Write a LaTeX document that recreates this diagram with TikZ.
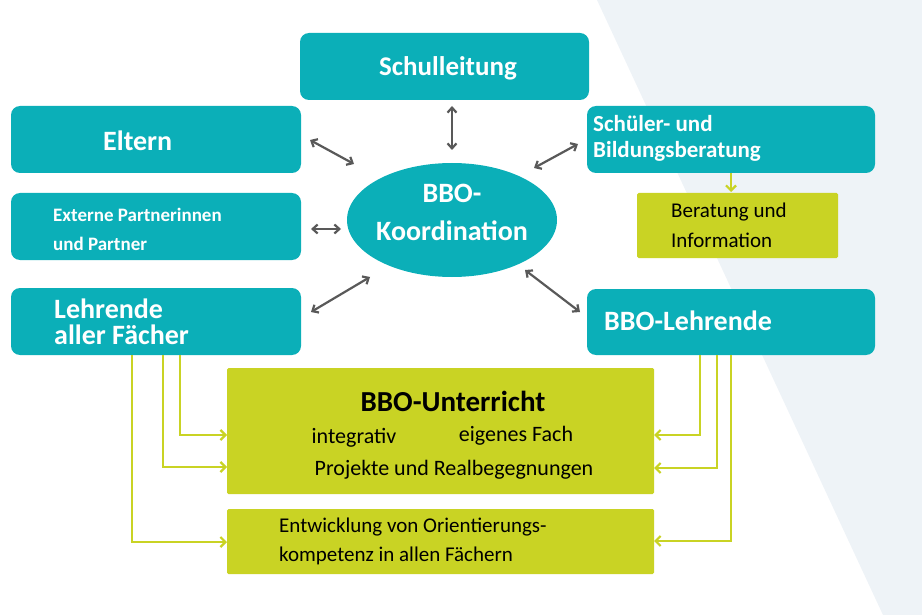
\documentclass[tikz,border=0pt]{standalone}
\usepackage{fontspec}
\setmainfont{Carlito}
\usetikzlibrary{arrows.meta}
\definecolor{teal1}{HTML}{0BAFB8}
\definecolor{lime1}{HTML}{C9D324}
\definecolor{grey1}{HTML}{595959}
\definecolor{bg1}{HTML}{EEF3F7}
\begin{document}
\begin{tikzpicture}[x=1pt,y=-1pt,
  tbox/.style={fill=teal1,rounded corners=9pt},
  gbox/.style={fill=lime1,rounded corners=1.5pt},
  wt/.style={text=white,font=\bfseries,anchor=west,inner sep=0pt,align=left},
  bt/.style={text=black,inner sep=0pt},
  dbl/.style={draw=grey1,line width=2.2pt,{Straight Barb[length=5pt,width=9pt]}-{Straight Barb[length=5pt,width=9pt]}},
  gline/.style={draw=lime1,line width=2.2pt,-{Straight Barb[length=5pt,width=10pt]}}]
\useasboundingbox (0,0) rectangle (922,615);
\fill[bg1] (597,0) -- (922,0) -- (922,615) -- (883,615) -- cycle;
% boxes
\path[tbox] (300,33) rectangle (589,100) coordinate (sl);
\node[wt,font=\fontsize{27}{28}\bfseries\selectfont,anchor=center] (tsl) at (448,68) {Schulleitung};
\path[tbox] (11,106) rectangle (301,173);
\node[wt,font=\fontsize{28}{29}\bfseries\selectfont] (tel) at (103,141) {Eltern};
\path[tbox] (11,193) rectangle (301,260);
\node[wt,font=\fontsize{19}{29}\bfseries\selectfont] (tex) at (53,229) {Externe Partnerinnen\\und Partner};
\path[tbox] (11,288) rectangle (301,355);
\node[wt,font=\fontsize{28}{26}\bfseries\selectfont] (tle) at (54,322) {Lehrende\\aller Fächer};
\path[tbox] (587,106) rectangle (875,173);
\node[wt,font=\fontsize{23}{26}\bfseries\selectfont] (tsb) at (593,138) {Schüler- und\\Bildungsberatung};
\path[gbox] (637,193) rectangle (838,258);
\node[bt,anchor=west,align=left,font=\fontsize{21}{30}\selectfont] (tbe) at (671,225) {Beratung und\\Information};
\path[tbox] (587,289) rectangle (875,355);
\node[wt,font=\fontsize{28}{29}\bfseries\selectfont] (tbl) at (604,321) {BBO-Lehrende};
\path[fill=teal1] (452,220) ellipse [x radius=105, y radius=57];
\node[wt,anchor=center,align=center,font=\fontsize{28}{38}\bfseries\selectfont] (tko) at (452,212) {BBO-\\Koordination};
\path[gbox] (227,368) rectangle (654,494);
\node[bt,font=\fontsize{29}{30}\bfseries\selectfont] (tun) at (453,401) {BBO-Unterricht};
\node[bt,font=\fontsize{22}{24}\selectfont] (tin) at (354,438) {integrativ};
\node[bt,font=\fontsize{22}{24}\selectfont] (tei) at (516,436) {eigenes Fach};
\node[bt,font=\fontsize{22}{24}\selectfont] (tpr) at (454,470) {Projekte und Realbegegnungen};
\path[gbox] (227,509) rectangle (654,574);
\node[bt,anchor=west,align=left,font=\fontsize{21}{29}\selectfont] (ten) at (279,541) {Entwicklung von Orientierungs-\\kompetenz in allen Fächern};
% grey arrows
\coordinate (a1) at (452,106); \coordinate (a2) at (452,150);
\draw[dbl] (a1) -- (a2);
\coordinate (b1) at (310,140); \coordinate (b2) at (354,164);
\draw[dbl] (b1) -- (b2);
\coordinate (c1) at (534,168); \coordinate (c2) at (578,144);
\draw[dbl] (c1) -- (c2);
\coordinate (d1) at (311,229); \coordinate (d2) at (341,229);
\draw[dbl] (d1) -- (d2);
\coordinate (e1) at (311,312); \coordinate (e2) at (370,277);
\draw[dbl] (e1) -- (e2);
\coordinate (f1) at (525,270); \coordinate (f2) at (580,312);
\draw[dbl] (f1) -- (f2);
% green connectors
\coordinate (g0) at (731,173); \coordinate (g0e) at (731,192);
\draw[gline] (g0) -- (g0e);
\coordinate (l1) at (132,355); \coordinate (l1e) at (227,542);
\coordinate (l2) at (163,355); \coordinate (l2e) at (227,467);
\coordinate (l3) at (180,355); \coordinate (l3e) at (227,435);
\draw[gline] (l1) |- (l1e);
\draw[gline] (l2) |- (l2e);
\draw[gline] (l3) |- (l3e);
\coordinate (r1) at (700,355); \coordinate (r1e) at (654,435);
\coordinate (r2) at (717,355); \coordinate (r2e) at (654,468);
\coordinate (r3) at (731,355); \coordinate (r3e) at (654,541);
\draw[gline] (r1) |- (r1e);
\draw[gline] (r2) |- (r2e);
\draw[gline] (r3) |- (r3e);
\end{tikzpicture}
\end{document}
